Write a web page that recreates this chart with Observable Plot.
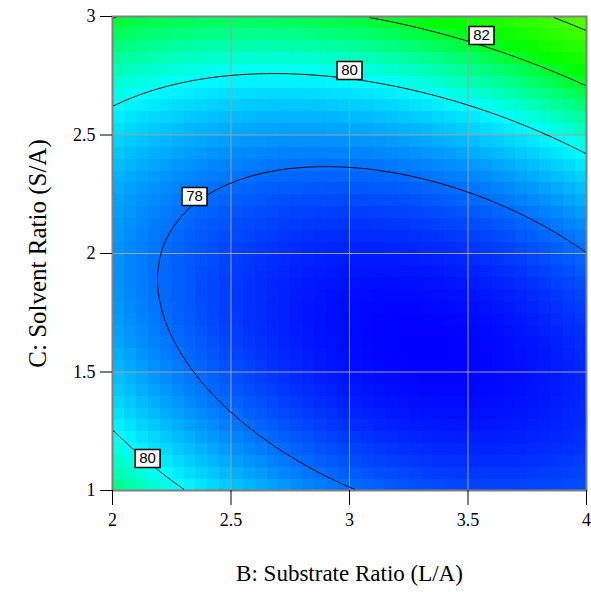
<!DOCTYPE html>
<html><head><meta charset="utf-8">
<script src="https://cdn.jsdelivr.net/npm/d3@7"></script>
<script src="https://cdn.jsdelivr.net/npm/@observablehq/plot@0.6"></script>
<style>body{margin:0;background:#fff}</style>
</head><body><div id="chart"></div>
<script>
// Tick values
const xTicks = [2, 2.5, 3, 3.5, 4];
const yTicks = [1, 1.5, 2, 2.5, 3];
// Fitted quadratic response-surface model (coded: x = B-3, y = C-2)
const terms = ["Intercept", "B", "C", "BC", "B²", "C²"];
const coefficients = [76.89, -0.29, 1.93, 1.55, 1.39, 3.10];
// Contour levels and their labels
const contourLevels = [78, 80, 82, 84];
const labelB = [2.346, 3.0, 3.557, 2.148];
const labelC = [2.24, 2.772, 2.92, 1.135];
const labelText = ["78", "80", "82", "80"];
// Colour ramp
const colorStops = [76.47, 80, 82.4, 88];
const colorRange = ["#0000ff", "#00ffff", "#00ff00", "#ffff00"];

function response(B, C) {
  const x = B - 3, y = C - 2;
  const [a, b, c, d, e, f] = coefficients;
  return a + b * x + c * y + d * x * y + e * x * x + f * y * y;
}
const labels = labelText.map((t, i) => ({B: labelB[i], C: labelC[i], t}));
const boxSymbol = {draw(ctx, size) { ctx.rect(-12.5, -9, 25, 18); }};
const serif = "'Liberation Serif', 'Times New Roman', serif";

const chart = Plot.plot({
  width: 591, height: 592,
  marginLeft: 112, marginRight: 5, marginTop: 16, marginBottom: 102,
  style: {fontFamily: serif, fontSize: "18px", background: "#fff", color: "#000"},
  x: {domain: [2, 4]},
  y: {domain: [1, 3]},
  color: {type: "linear", domain: colorStops, range: colorRange, clamp: true},
  marks: [
    Plot.raster({x1: 2, x2: 4, y1: 1, y2: 3, width: 40, height: 40, fill: response, imageRendering: "pixelated"}),
    Plot.gridX(xTicks, {stroke: "#a0a0a0", strokeOpacity: 1}),
    Plot.gridY(yTicks, {stroke: "#a0a0a0", strokeOpacity: 1}),
    Plot.contour({x1: 2, x2: 4, y1: 1, y2: 3, width: 240, height: 240, value: response, thresholds: contourLevels, stroke: "black", fill: "none", strokeWidth: 1, clip: true}),
    Plot.frame({stroke: "#808080", strokeWidth: 2}),
    Plot.axisX(xTicks, {tickSize: 15, tickPadding: 8, tickFormat: d => String(d), label: null, fontSize: 18, fontFamily: serif}),
    Plot.axisY(yTicks, {tickSize: 12, tickPadding: 5, tickFormat: d => String(d), label: null, fontSize: 18, fontFamily: serif}),
    Plot.dot(labels, {x: "B", y: "C", symbol: boxSymbol, fill: "white", stroke: "black", r: 1}),
    Plot.text(labels, {x: "B", y: "C", text: "t", fontFamily: "'Liberation Sans', Arial, sans-serif", fontSize: 15}),
    Plot.text(["B: Substrate Ratio (L/A)"], {text: d => d, frameAnchor: "bottom", dy: 90, fontSize: 23, fontFamily: serif}),
    Plot.text(["C: Solvent Ratio (S/A)"], {text: d => d, frameAnchor: "left", textAnchor: "middle", dx: -75, rotate: -90, fontSize: 25, fontFamily: serif})
  ]
});
document.getElementById("chart").appendChild(chart);
</script>
</body></html>
